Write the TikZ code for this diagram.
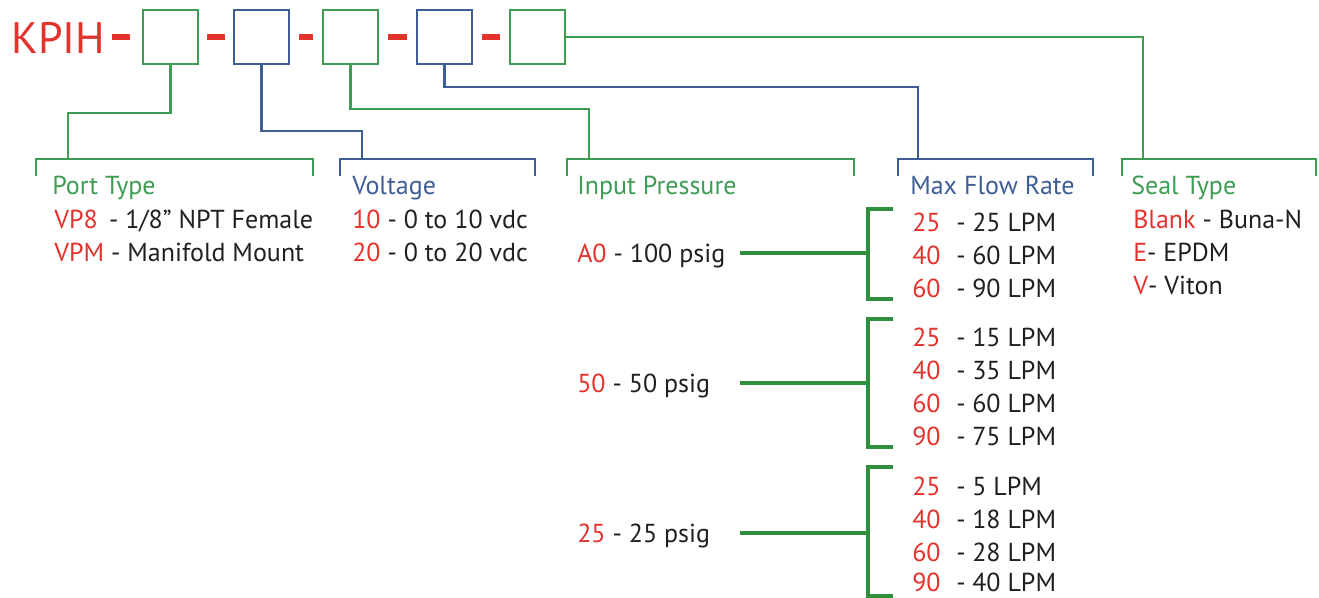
\documentclass[tikz,border=0pt]{standalone}
\usepackage{fontspec}
\setmainfont{PT Sans}
\usetikzlibrary{positioning}

\definecolor{kgreen}{RGB}{62,156,84}
\definecolor{kdgreen}{RGB}{46,142,60}
\definecolor{kblue}{RGB}{63,94,150}
\definecolor{kred}{RGB}{228,50,45}
\definecolor{ktext}{RGB}{35,31,32}

% Linha de vazao: numero vermelho, traco e valor
\newcommand{\flowrow}[2]{\makebox[33pt][l]{\textcolor{kred}{#1}}\makebox[12pt][l]{-}#2}

\begin{document}
\begin{tikzpicture}[
    x=0.75pt, y=-0.75pt,
    font=\fontsize{19.5}{22}\selectfont,
    % Estilos
    slot/.style={draw, rectangle, fill=white, line width=1.6pt,
        minimum width=41.25pt, minimum height=40.5pt, inner sep=0pt},
    gslot/.style={slot, draw=kgreen},
    bslot/.style={slot, draw=kblue},
    txt/.style={anchor=base west, inner sep=0pt, text=ktext},
    ghead/.style={txt, text=kgreen},
    bhead/.style={txt, text=kblue},
    gline/.style={draw=kgreen, line width=1.8pt},
    bline/.style={draw=kblue, line width=1.8pt},
    fline/.style={draw=kdgreen, line width=2.8pt},
    sepline/.style={draw=kred, line width=3.8pt}
]
    \useasboundingbox (0,0) rectangle (1319,597);

    % --- CODIGO ---
    \node[txt, text=kred, font=\fontsize{33}{36}\selectfont] (kpih) at (11,53) {KPIH};
    \node[gslot] (b1) at (170.5,37) {};
    \node[bslot] (b2) at (261.5,37) {};
    \node[gslot] (b3) at (350.5,37) {};
    \node[bslot] (b4) at (444.5,37) {};
    \node[gslot] (b5) at (537.5,37) {};

    % Tracos vermelhos
    \draw[sepline, shorten <=5pt, shorten >=9pt] (kpih.east |- b1) -- (b1.west);
    \draw[sepline, shorten <=6pt, shorten >=6pt] (b1.east) -- (b2.west);
    \draw[sepline, shorten <=7pt, shorten >=7pt] (b2.east) -- (b3.west);
    \draw[sepline, shorten <=7pt, shorten >=7pt] (b3.east) -- (b4.west);
    \draw[sepline, shorten <=7pt, shorten >=7pt] (b4.east) -- (b5.west);

    % --- CHAVES DAS CATEGORIAS ---
    \coordinate (port_top) at (68,159);   \coordinate (port_l) at (36,176);   \coordinate (port_r) at (313,176);
    \coordinate (volt_top) at (362,159);  \coordinate (volt_l) at (340,176);  \coordinate (volt_r) at (535,176);
    \coordinate (inp_top) at (589,159);   \coordinate (inp_l) at (567,176);   \coordinate (inp_r) at (854,176);
    \coordinate (flow_top) at (918,159);  \coordinate (flow_l) at (898,176);  \coordinate (flow_r) at (1093,176);
    \coordinate (seal_top) at (1143,159); \coordinate (seal_l) at (1122,176); \coordinate (seal_r) at (1316,176);

    \draw[gline] (port_l) |- (port_top) -| (port_r);
    \draw[bline] (volt_l) |- (volt_top) -| (volt_r);
    \draw[gline] (inp_l) |- (inp_top) -| (inp_r);
    \draw[bline] (flow_l) |- (flow_top) -| (flow_r);
    \draw[gline] (seal_l) |- (seal_top) -| (seal_r);

    % Ligacoes caixa -> categoria
    \draw[gline] (b1.south) -- ++(0,48) -| (port_top);
    \draw[bline] (b2.south) -- ++(0,66) -| (volt_top);
    \draw[gline] (b3.south) -- ++(0,44) -| (inp_top);
    \draw[bline] (b4.south) -- ++(0,22) -| (flow_top);
    \draw[gline] (b5.east) -| (seal_top);

    % --- TEXTOS ---
    \node[ghead] (port_h) at (52,194) {Port Type};
    \node[txt] (port_1) at (54,228) {\textcolor{kred}{VP8}\,\ - 1/8” NPT Female};
    \node[txt] (port_2) at (54,261) {\textcolor{kred}{VPM} - Manifold Mount};

    \node[bhead] (volt_h) at (352,194) {Voltage};
    \node[txt] (volt_1) at (352,228) {\textcolor{kred}{10} - 0 to 10 vdc};
    \node[txt] (volt_2) at (352,261) {\textcolor{kred}{20} - 0 to 20 vdc};

    \node[ghead] (inp_h) at (577,194) {Input Pressure};
    \node[bhead] (flow_h) at (910,194) {Max Flow Rate};

    \node[ghead] (seal_h) at (1131,194) {Seal Type};
    \node[txt] (seal_1) at (1133,228) {\textcolor{kred}{Blank} - Buna-N};
    \node[txt] (seal_2) at (1133,261) {\textcolor{kred}{E}- EPDM};
    \node[txt] (seal_3) at (1133,294) {\textcolor{kred}{V}- Viton};

    % --- PRESSAO -> VAZAO ---
    \node[txt] (p100) at (577,262) {\textcolor{kred}{A0} - 100 psig};
    \node[txt] (p50) at (577,392) {\textcolor{kred}{50} - 50 psig};
    \node[txt] (p25) at (577,542) {\textcolor{kred}{25} - 25 psig};

    \coordinate (g1_in) at (740,253); \coordinate (g1_joint) at (868,253);
    \coordinate (g1_top) at (893,209); \coordinate (g1_bot) at (893,299);
    \coordinate (g2_in) at (740,383); \coordinate (g2_joint) at (868,383);
    \coordinate (g2_top) at (893,319); \coordinate (g2_bot) at (893,447);
    \coordinate (g3_in) at (740,533); \coordinate (g3_joint) at (868,533);
    \coordinate (g3_top) at (893,467); \coordinate (g3_bot) at (893,596);

    \draw[fline] (g1_in) -- (g1_joint); \draw[fline] (g1_top) -| (g1_joint) |- (g1_bot);
    \draw[fline] (g2_in) -- (g2_joint); \draw[fline] (g2_top) -| (g2_joint) |- (g2_bot);
    \draw[fline] (g3_in) -- (g3_joint); \draw[fline] (g3_top) -| (g3_joint) |- (g3_bot);

    \node[txt] (r1a) at (912,231) {\flowrow{25}{25 LPM}};
    \node[txt] (r1b) at (912,264) {\flowrow{40}{60 LPM}};
    \node[txt] (r1c) at (912,297) {\flowrow{60}{90 LPM}};

    \node[txt] (r2a) at (912,346) {\flowrow{25}{15 LPM}};
    \node[txt] (r2b) at (912,379) {\flowrow{40}{35 LPM}};
    \node[txt] (r2c) at (912,412) {\flowrow{60}{60 LPM}};
    \node[txt] (r2d) at (912,445) {\flowrow{90}{75 LPM}};

    \node[txt] (r3a) at (912,495) {\flowrow{25}{5 LPM}};
    \node[txt] (r3b) at (912,528) {\flowrow{40}{18 LPM}};
    \node[txt] (r3c) at (912,561) {\flowrow{60}{28 LPM}};
    \node[txt] (r3d) at (912,591) {\flowrow{90}{40 LPM}};

\end{tikzpicture}
\end{document}
